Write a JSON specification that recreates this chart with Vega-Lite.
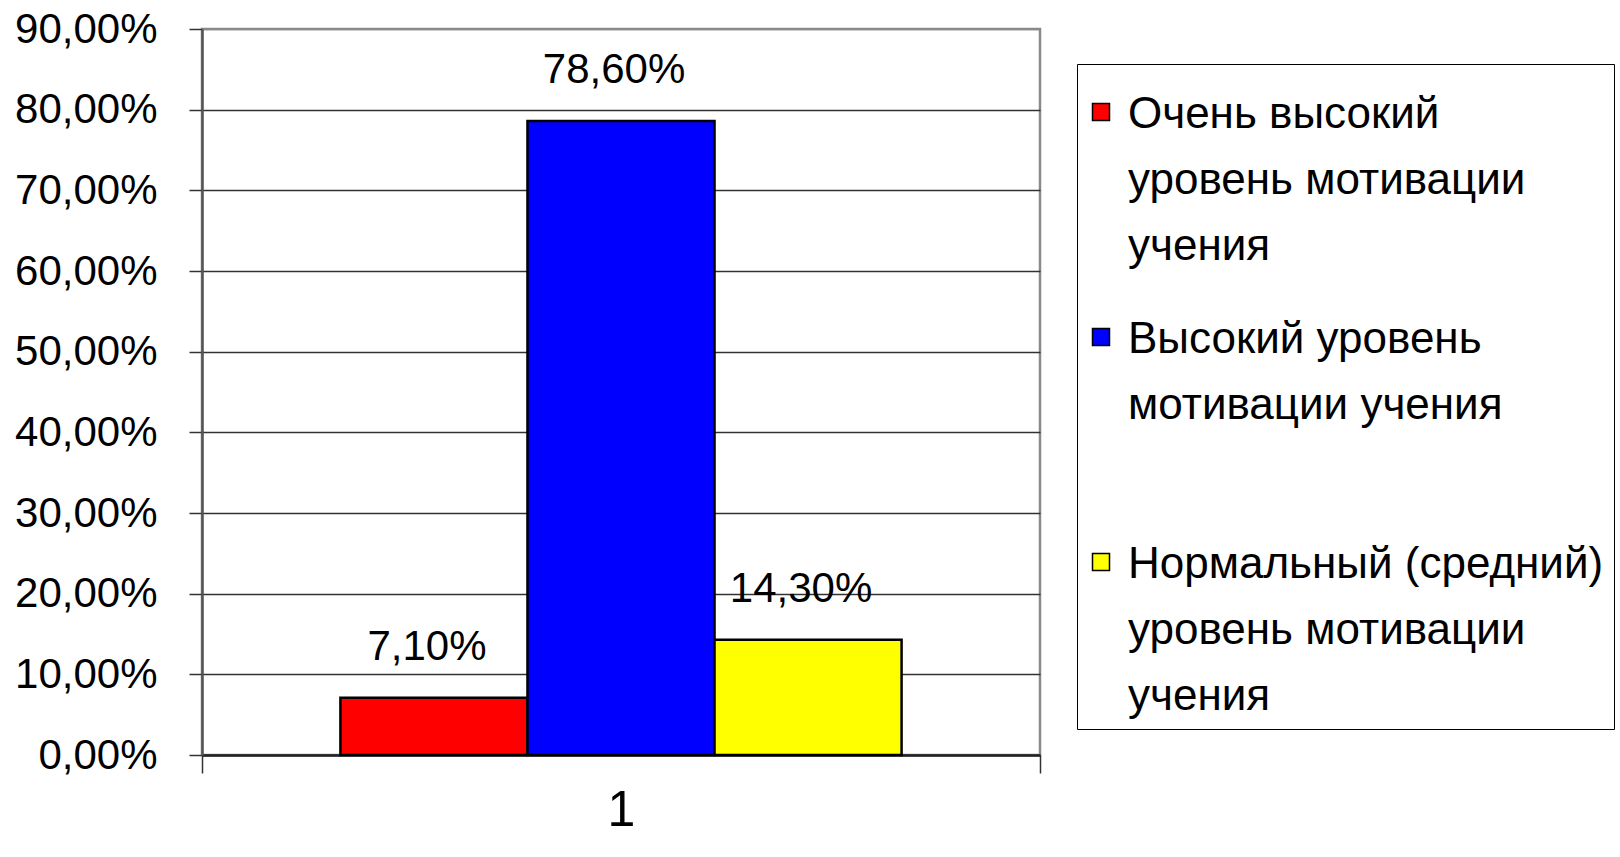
{
  "$schema": "https://vega.github.io/schema/vega-lite/v6.json",
  "width": 838,
  "height": 726,
  "autosize": "none",
  "padding": {"left": 202, "top": 29, "right": 580, "bottom": 102},
  "background": "white",
  "config": {"view": {"stroke": "#8a8a8a", "strokeWidth": 2.5}},
  "data": {"values": [
    {"group": "1", "series": "Очень высокий уровень мотивации учения", "value": 0.071},
    {"group": "1", "series": "Высокий уровень мотивации учения", "value": 0.786},
    {"group": "1", "series": "Нормальный (средний) уровень мотивации учения", "value": 0.143}
  ]},
  "transform": [{"calculate": "replace(format(datum.value, '.2%'), '.', ',')", "as": "label"}],
  "encoding": {
    "x": {
      "field": "group", "type": "nominal",
      "scale": {"paddingInner": 0, "paddingOuter": 0},
      "axis": {
        "title": null, "labelAngle": 0, "labelFont": "Liberation Sans", "labelFontSize": 50,
        "labelColor": "black", "tickBand": "extent", "tickSize": 18, "tickColor": "#333",
        "tickWidth": 1.5, "domainColor": "#222", "domainWidth": 2.5, "labelPadding": 12
      }
    },
    "xOffset": {
      "field": "series", "type": "nominal",
      "sort": ["Очень высокий уровень мотивации учения", "Высокий уровень мотивации учения", "Нормальный (средний) уровень мотивации учения"],
      "scale": {"paddingInner": 0, "paddingOuter": 0.74}
    },
    "y": {
      "field": "value", "type": "quantitative",
      "scale": {"domain": [0, 0.9], "nice": false},
      "axis": {
        "title": null,
        "values": [0, 0.1, 0.2, 0.3, 0.4, 0.5, 0.6, 0.7, 0.8, 0.9],
        "labelExpr": "replace(format(datum.value, '.2%'), '.', ',')",
        "labelFont": "Liberation Sans", "labelFontSize": 42, "labelColor": "black",
        "labelPadding": 32, "tickSize": 13, "tickColor": "#333", "tickWidth": 1.5,
        "grid": true,
        "gridColor": {"condition": {"test": "datum.value >= 0.89", "value": "#8a8a8a"}, "value": "#333333"},
        "gridWidth": 1.5,
        "domainColor": "#555", "domainWidth": 2.5
      }
    }
  },
  "layer": [
    {
      "mark": {"type": "bar", "stroke": "black", "strokeWidth": 2.5},
      "encoding": {
        "color": {
          "field": "series", "type": "nominal",
          "sort": ["Очень высокий уровень мотивации учения", "Высокий уровень мотивации учения", "Нормальный (средний) уровень мотивации учения"],
          "scale": {"range": ["#FF0000", "#0000FF", "#FFFF00"]},
          "legend": {
            "title": " ", "titleFontSize": 4, "titlePadding": 12,
            "orient": "none", "legendX": 875, "legendY": 35,
            "strokeColor": "black", "padding": 10,
            "symbolType": "square", "symbolSize": 289, "symbolStrokeColor": "black", "symbolStrokeWidth": 1.5,
            "symbolOpacity": 1, "symbolOffset": -8,
            "labelFont": "Liberation Sans", "labelFontSize": 44, "labelColor": "black",
            "labelLimit": 700, "labelOffset": 5, "labelBaseline": "top", "rowPadding": 46,
            "labelExpr": "datum.label == 'Очень высокий уровень мотивации учения' ? ['Очень высокий', 'уровень мотивации', 'учения'] : datum.label == 'Высокий уровень мотивации учения' ? ['Высокий уровень', 'мотивации учения', ' '] : ['Нормальный (средний)', 'уровень мотивации', 'учения']",
            "encode": {"labels": {"update": {"lineHeight": {"value": 66}, "dy": {"value": -19}}}}
          }
        }
      }
    },
    {
      "mark": {"type": "text", "dy": -38, "dx": -7, "baseline": "alphabetic", "font": "Liberation Sans", "fontSize": 42, "color": "black"},
      "encoding": {"text": {"field": "label"}}
    }
  ]
}
